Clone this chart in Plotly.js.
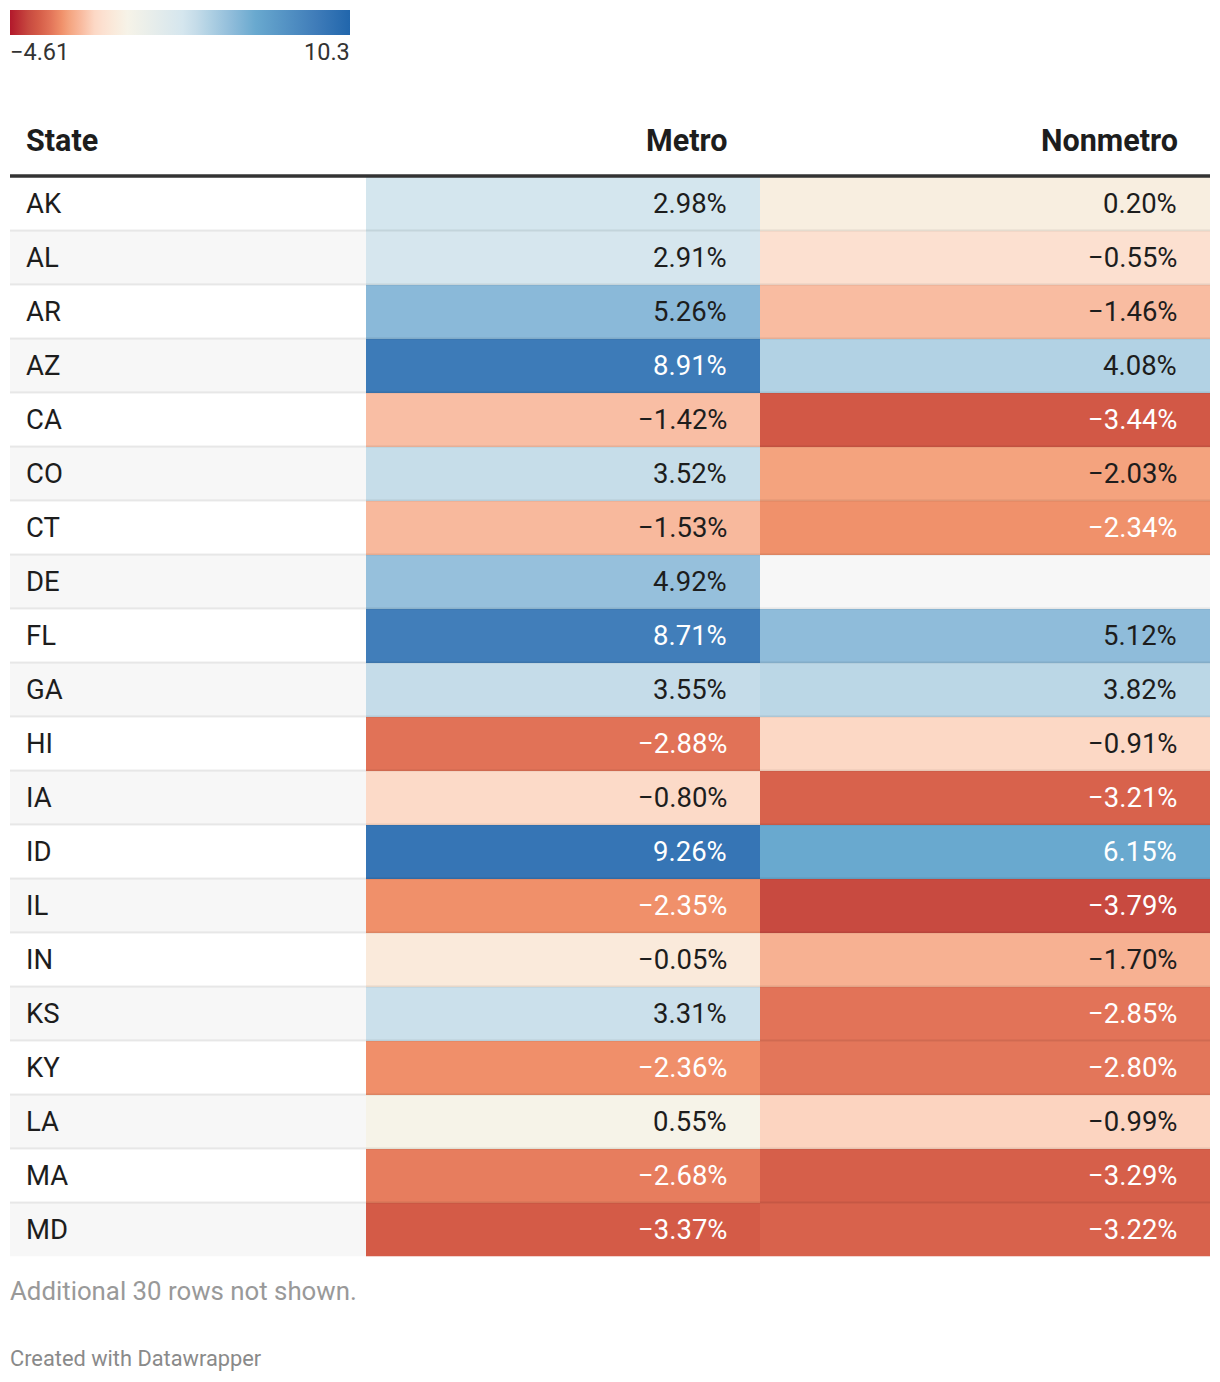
<!DOCTYPE html>
<html><head><meta charset="utf-8">
<script src="https://cdn.plot.ly/plotly-3.0.1.min.js"></script>
<style>html,body{margin:0;padding:0;background:#fff}#chart{width:1220px;height:1382px}</style>
</head><body><div id="chart"></div>
<script>
// ---- data ----
const states = ['AK','AL','AR','AZ','CA','CO','CT','DE','FL','GA','HI','IA','ID','IL','IN','KS','KY','LA','MA','MD'];
const metro = [2.98, 2.91, 5.26, 8.91, -1.42, 3.52, -1.53, 4.92, 8.71, 3.55, -2.88, -0.80, 9.26, -2.35, -0.05, 3.31, -2.36, 0.55, -2.68, -3.37];
const nonmetro = [0.20, -0.55, -1.46, 4.08, -3.44, -2.03, -2.34, null, 5.12, 3.82, -0.91, -3.21, 6.15, -3.79, -1.70, -2.85, -2.80, -0.99, -3.29, -3.22];
const headers = ['State', 'Metro', 'Nonmetro'];
const scaleMin = -4.61, scaleMax = 10.3;
const hiddenRows = 30;
const credit = 'Created with Datawrapper';

// ---- style ----
const W = 1220, H = 1382;
const FONT = 'Roboto, "Noto Sans", sans-serif';
const stops = [
  [-4.61,'#b2182b'],[-3.79,'#c84a40'],[-3.37,'#d45b47'],[-2.85,'#e27358'],[-2.35,'#f0906a'],
  [-2.03,'#f4a37e'],[-1.46,'#f9bca1'],[-0.91,'#fcd8c5'],[-0.55,'#fce0d0'],[-0.05,'#faeadb'],
  [0.55,'#f6f3e8'],[2.95,'#d5e6ee'],[3.55,'#c5dce9'],[4.08,'#b2d2e4'],[5.12,'#8fbcda'],
  [6.15,'#69a9cf'],[8.81,'#3f7cb9'],[10.3,'#2166ac']];
const colorscale = stops.map(s => [(s[0]-scaleMin)/(scaleMax-scaleMin), s[1]]);

const colLeft = 10, colState = 366, colMid = 760, colRight = 1210;
const rowsTop = 176.5, rowsBottom = 1256.5;
const px = v => v / W, py = v => 1 - v / H;

const fmt = v => (v < 0 ? '\u2212' : '') + Math.abs(v).toFixed(2) + '%';
const txtColor = v => (v > 6 || v < -2.2) ? '#ffffff' : '#1d1d1d';

const traces = [
  {type:'heatmap', x:[headers[1]], y:states, z:metro.map(v=>[v]), xaxis:'x', yaxis:'y', coloraxis:'coloraxis', hoverinfo:'skip'},
  {type:'heatmap', x:[headers[2]], y:states, z:nonmetro.map(v=>[v]), xaxis:'x2', yaxis:'y', coloraxis:'coloraxis', hoverinfo:'skip'}
];

const shapes = [];
states.forEach((s,i) => {
  if (i % 2 === 1) shapes.push({type:'rect', layer:'below', xref:'paper', yref:'y', x0:px(colLeft), x1:px(colRight), y0:i-0.5, y1:i+0.5, fillcolor:'#f7f7f7', line:{width:0}});
  if (i < states.length-1) shapes.push({type:'line', layer:'above', xref:'paper', yref:'y', x0:px(colLeft), x1:px(colRight), y0:i+0.5, y1:i+0.5, line:{color:'rgba(0,0,0,0.08)', width:2}});
});
shapes.push({type:'line', xref:'paper', yref:'paper', x0:px(colLeft), x1:px(colRight), y0:py(176), y1:py(176), line:{color:'#333333', width:3.5}});

const ann = [];
const headY = py(140);
const headFont = {family:FONT, size:30.5, color:'#1d1d1d'};
const bodySize = 27.5;
ann.push({xref:'paper', yref:'paper', x:px(24), y:headY, xanchor:'left', yanchor:'middle', text:'<b>'+headers[0]+'</b>', showarrow:false, font:headFont});
ann.push({xref:'x domain', yref:'paper', x:1, xshift:-31, y:headY, xanchor:'right', yanchor:'middle', text:'<b>'+headers[1]+'</b>', showarrow:false, font:headFont});
ann.push({xref:'x2 domain', yref:'paper', x:1, xshift:-30, y:headY, xanchor:'right', yanchor:'middle', text:'<b>'+headers[2]+'</b>', showarrow:false, font:headFont});
states.forEach((s,i) => {
  ann.push({xref:'paper', yref:'y', x:px(24), y:s, xanchor:'left', yanchor:'middle', text:s, showarrow:false, font:{family:FONT, size:bodySize, color:'#1d1d1d'}});
  [[metro,'x domain'],[nonmetro,'x2 domain']].forEach(([arr,xr]) => {
    const v = arr[i];
    if (v === null || v === undefined) return;
    ann.push({xref:xr, yref:'y', x:1, xshift:-31, y:s, xanchor:'right', yanchor:'middle', text:fmt(v), showarrow:false, font:{family:FONT, size:bodySize, color:txtColor(v)}});
  });
});
ann.push({xref:'paper', yref:'paper', x:px(8), y:py(52), xanchor:'left', yanchor:'middle', text:(scaleMin<0?'\u2212':'')+Math.abs(scaleMin), showarrow:false, font:{family:FONT, size:23.5, color:'#333333'}});
ann.push({xref:'paper', yref:'paper', x:px(352), y:py(52), xanchor:'right', yanchor:'middle', text:String(scaleMax), showarrow:false, font:{family:FONT, size:23.5, color:'#333333'}});
ann.push({xref:'paper', yref:'paper', x:px(8), y:py(1291), xanchor:'left', yanchor:'middle', text:'Additional '+hiddenRows+' rows not shown.', showarrow:false, font:{family:FONT, size:25.8, color:'#999999'}});
ann.push({xref:'paper', yref:'paper', x:px(8), y:py(1358), xanchor:'left', yanchor:'middle', text:credit, showarrow:false, font:{family:FONT, size:21.8, color:'#8a8a8a'}});

const layout = {
  width:W, height:H, margin:{l:0,r:0,t:0,b:0}, paper_bgcolor:'#ffffff', plot_bgcolor:'rgba(0,0,0,0)',
  showlegend:false,
  xaxis:{domain:[px(colState), px(colMid)], range:[-0.5,0.5], visible:false, fixedrange:true},
  xaxis2:{domain:[px(colMid), px(colRight)], range:[-0.5,0.5], visible:false, anchor:'y', fixedrange:true},
  yaxis:{domain:[py(rowsBottom), py(rowsTop)], type:'category', categoryarray:states, range:[states.length-0.5,-0.5], visible:false, fixedrange:true},
  coloraxis:{cmin:scaleMin, cmax:scaleMax, colorscale:colorscale,
    colorbar:{orientation:'h', x:px(10), xanchor:'left', y:py(10), yanchor:'top', len:340, lenmode:'pixels', thickness:25, thicknessmode:'pixels',
      outlinewidth:0, showticklabels:false, ticks:'', xpad:0, ypad:0}},
  shapes:shapes, annotations:ann
};
Plotly.newPlot('chart', traces, layout, {displayModeBar:false, staticPlot:true});
</script></body></html>
